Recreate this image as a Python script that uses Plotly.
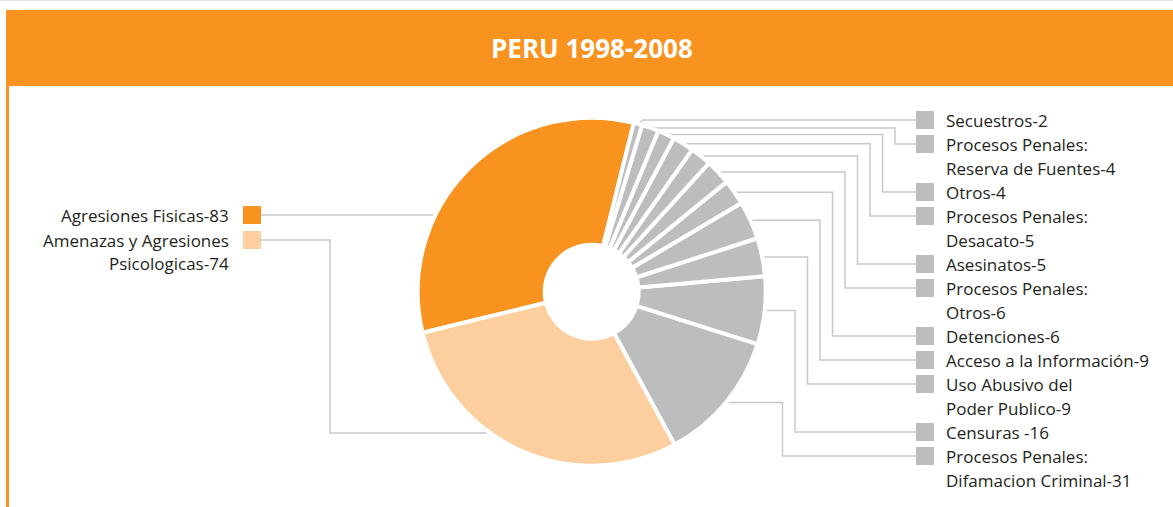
import math
import plotly.graph_objects as go

# datos: casos por tipo de agresion, Peru 1998-2008
categorias = ["Agresiones Fisicas", "Amenazas y Agresiones Psicologicas",
              "Procesos Penales: Difamacion Criminal", "Censuras",
              "Uso Abusivo del Poder Publico", "Acceso a la Información",
              "Detenciones", "Procesos Penales: Otros", "Asesinatos",
              "Procesos Penales: Desacato", "Otros",
              "Procesos Penales: Reserva de Fuentes", "Secuestros"]
casos = [83, 74, 31, 16, 9, 9, 6, 6, 5, 5, 4, 4, 2]
etiquetas = [["Agresiones Fisicas-83"],
             ["Amenazas y Agresiones", "Psicologicas-74"],
             ["Procesos Penales:", "Difamacion Criminal-31"],
             ["Censuras -16"],
             ["Uso Abusivo del", "Poder Publico-9"],
             ["Acceso a la Información-9"],
             ["Detenciones-6"],
             ["Procesos Penales:", "Otros-6"],
             ["Asesinatos-5"],
             ["Procesos Penales:", "Desacato-5"],
             ["Otros-4"],
             ["Procesos Penales:", "Reserva de Fuentes-4"],
             ["Secuestros-2"]]
colores = ["#F7931E", "#FDCF9F"] + ["#BCBDBF"] * 11

W, H = 1173, 507
CX, CY, R = 591.7, 291.7, 174
ROT = 14          # inicio de la primera porcion (grados, horario desde arriba)
LINEA = "#C9C9C9"
TXT = "#231F20"
FONT = "Open Sans"

total = sum(casos)
# plotly en sentido antihorario coloca la primera porcion a la derecha de "rotation"
rot_plotly = ROT - casos[0] / total * 360

fig = go.Figure()
fig.add_trace(go.Pie(values=casos, labels=categorias, sort=False,
                     direction="counterclockwise", rotation=rot_plotly, hole=0.27,
                     marker=dict(colors=colores, line=dict(color="white", width=4)),
                     textinfo="none", hoverinfo="label+value", showlegend=False,
                     domain=dict(x=[(CX - R) / W, (CX + R) / W],
                                 y=[(H - CY - R) / H, (H - CY + R) / H])))
fig.add_trace(go.Scatter(x=[None], y=[None], showlegend=False, hoverinfo="skip"))

shapes = []
anns = []

def path(pts):
    d = "M " + " L ".join(f"{x:.1f},{y:.1f}" for x, y in pts)
    shapes.append(dict(type="path", path=d, xref="x", yref="y", layer="below",
                       line=dict(color=LINEA, width=1.5)))

def cuadro(x0, y, color):
    shapes.append(dict(type="rect", xref="x", yref="y", x0=x0, x1=x0 + 18,
                       y0=y - 9, y1=y + 9, fillcolor=color, line=dict(width=0)))

def texto(x, y, s, anchor):
    anns.append(dict(x=x, y=y, xref="x", yref="y", text=s, showarrow=False,
                     xanchor=anchor, yanchor="middle",
                     font=dict(family=FONT, size=17, color=TXT)))

def borde_x(y):
    return CX - math.sqrt(R * R - (y - CY) ** 2)

# angulos medios de cada porcion
medios = []
acum = 0
for v in casos:
    medios.append(math.radians(ROT - (acum + v / 2) / total * 360))
    acum += v

# leyenda derecha (porciones grises, de arriba hacia abajo)
fila = 120
orden = list(range(len(casos) - 1, 1, -1))
for j, i in enumerate(orden):
    a = medios[i]
    sx, sy = CX + R * math.sin(a), CY - R * math.cos(a)
    if abs(sy - fila) < 8:
        path([(sx, sy), (sx + 5, fila), (916, fila)])
    else:
        codo = 895 - 12.5 * (j - 1)
        path([(sx, sy), (codo, sy), (codo, fila), (916, fila)])
    cuadro(916, fila, colores[i])
    for k, linea in enumerate(etiquetas[i]):
        texto(944, fila + 24 * k, linea, "left")
    fila += 24 * len(etiquetas[i])

# leyenda izquierda
cuadro(243, 215, colores[0])
texto(231, 215, etiquetas[0][0], "right")
path([(261, 215), (borde_x(215), 215)])
cuadro(243, 240, colores[1])
texto(231, 240, etiquetas[1][0], "right")
texto(231, 263, etiquetas[1][1], "right")
path([(261, 240), (330, 240), (330, 433), (borde_x(433), 433)])

# encabezado
shapes.append(dict(type="rect", xref="x", yref="y", x0=6, x1=W, y0=10, y1=86,
                   fillcolor="#F7931E", line=dict(width=0), layer="below"))
shapes.append(dict(type="rect", xref="x", yref="y", x0=6, x1=9, y0=86, y1=H,
                   fillcolor="#F7931E", line=dict(width=0), layer="below"))
shapes.append(dict(type="line", xref="x", yref="y", x0=0, x1=W, y0=0.5, y1=0.5,
                   line=dict(color="#E2E2E2", width=1), layer="below"))
anns.append(dict(x=592, y=48, xref="x", yref="y", text="<b>PERU 1998-2008</b>",
                 showarrow=False, xanchor="center", yanchor="middle",
                 font=dict(family=FONT, size=26, color="white")))

fig.update_layout(width=W, height=H, autosize=False,
                  margin=dict(l=0, r=0, t=0, b=0),
                  paper_bgcolor="white", plot_bgcolor="white",
                  xaxis=dict(range=[0, W], visible=False, fixedrange=True),
                  yaxis=dict(range=[H, 0], visible=False, fixedrange=True),
                  shapes=shapes, annotations=anns)

fig.write_html("out.html", config={"displayModeBar": False},
               post_script="document.body.style.margin='0';")
